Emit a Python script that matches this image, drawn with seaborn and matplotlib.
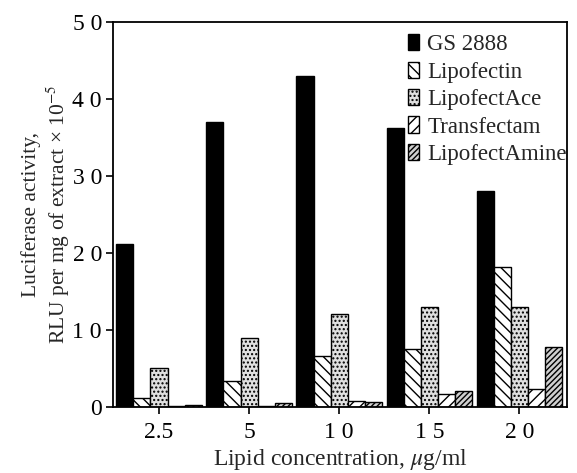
import matplotlib
matplotlib.use("Agg")
import matplotlib.pyplot as plt
import seaborn as sns
import pandas as pd
from matplotlib.patches import Patch

concentrations = ["2.5", "5", "1 0", "1 5", "2 0"]
reagents = ["GS 2888", "Lipofectin", "LipofectAce", "Transfectam", "LipofectAmine"]
gs2888 = [21.2, 37.0, 43.0, 36.2, 28.0]
lipofectin = [1.2, 3.4, 6.6, 7.5, 18.2]
lipofectace = [5.0, 8.9, 12.0, 13.0, 13.0]
transfectam = [0.05, 0.1, 0.8, 1.6, 2.3]
lipofectamine = [0.2, 0.5, 0.6, 2.1, 7.8]
yticklabels = ["0", "1 0", "2 0", "3 0", "4 0", "5 0"]

series = [gs2888, lipofectin, lipofectace, transfectam, lipofectamine]
rows = []
for r, vals in zip(reagents, series):
    for c, v in zip(concentrations, vals):
        rows.append({"conc": c, "reagent": r, "value": v})
df = pd.DataFrame(rows)

sns.set_theme(style="ticks")
plt.rcParams["font.family"] = ["Liberation Serif", "DejaVu Serif"]
plt.rcParams["mathtext.fontset"] = "stix"
plt.rcParams["hatch.linewidth"] = 1.0

fig = plt.figure(figsize=(5.77, 4.73), dpi=100)
ax = fig.add_axes([0.196, 0.140, 0.787, 0.813])

styles = {
    "GS 2888": ("black", ""),
    "Lipofectin": ("white", "\\\\\\"),
    "LipofectAce": ("#e0e0e0", "...."),
    "Transfectam": ("white", "///"),
    "LipofectAmine": ("#d0d0d0", "//////"),
}
palette = {k: v[0] for k, v in styles.items()}

sns.barplot(data=df, x="conc", y="value", hue="reagent", order=concentrations,
            hue_order=reagents, palette=palette, width=0.95, gap=0,
            edgecolor="black", linewidth=1.0, legend=False, ax=ax, saturation=1)

for cont, r in zip(ax.containers, reagents):
    for p in cont:
        p.set_hatch(styles[r][1])
        p.set_edgecolor("black")

ax.set_ylim(0, 50)
ax.set_xlim(-0.51, 4.53)
ax.set_yticks([0, 10, 20, 30, 40, 50])
ax.set_yticklabels(yticklabels, fontsize=17)
ax.set_xticklabels(concentrations, fontsize=17)
for s in ax.spines.values():
    s.set_visible(True)
    s.set_linewidth(1.3)
    s.set_color("black")
ax.tick_params(axis="both", direction="out", length=5, width=1.2, colors="black", labelcolor="black")
ax.tick_params(axis="x", pad=6)
ax.tick_params(axis="y", pad=3)

ax.set_xlabel("Lipid concentration, $\\mu$g/ml", fontsize=17, labelpad=3)
ax.set_ylabel("Luciferase activity,\nRLU per mg of extract × 10$^{-5}$", fontsize=15.5, labelpad=0)

handles = [Patch(facecolor=styles[r][0], edgecolor="black", hatch=styles[r][1], label=r) for r in reagents]
ax.legend(handles=handles, loc="upper right", bbox_to_anchor=(1.012, 0.984), frameon=False, fontsize=16.5,
          handlelength=0.5, handleheight=0.7, handletextpad=0.35, labelspacing=0.28,
          borderaxespad=0.0, borderpad=0.25)

fig.savefig("out.png", dpi=100)
